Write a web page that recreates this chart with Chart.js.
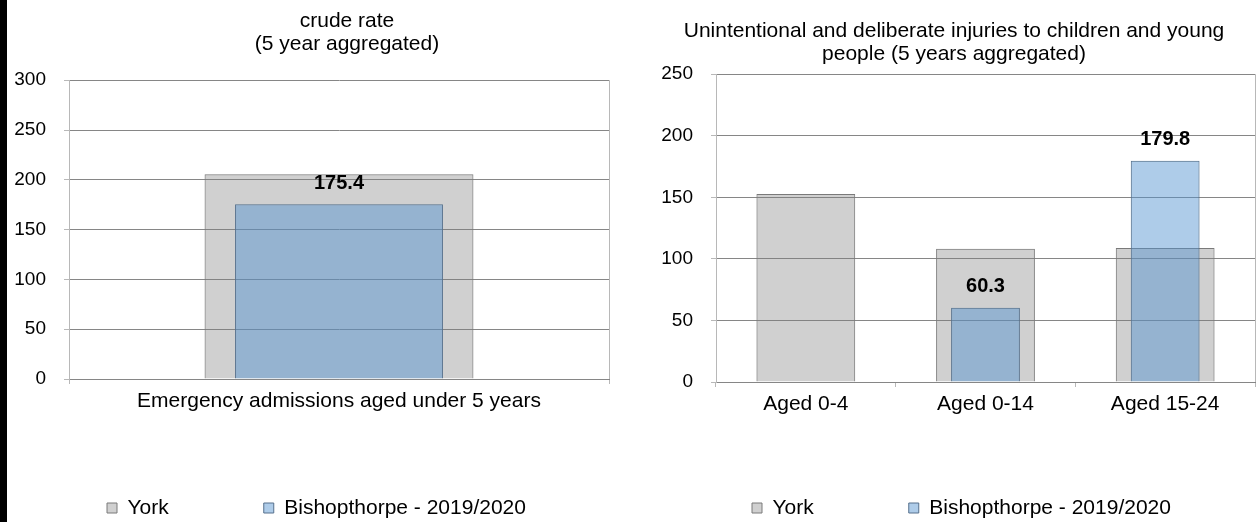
<!DOCTYPE html>
<html>
<head>
<meta charset="utf-8">
<script src="https://cdn.jsdelivr.net/npm/chart.js@4"></script>
<style>
    body { margin: 0; background: #fff; }
    #wrap { position: relative; width: 1258px; height: 522px; overflow: hidden; }
    #edge { position: absolute; left: 0; top: 0; width: 7px; height: 522px; background: #000; z-index: 2; }
    #left { position: absolute; left: 0; top: 0; width: 630px; height: 522px; }
    #right { position: absolute; left: 630px; top: 0; width: 628px; height: 522px; }
</style>
</head>
<body>
<div id="wrap">
    <div id="edge"></div>
    <div id="left"><canvas id="admissions-chart"></canvas></div>
    <div id="right"><canvas id="injuries-chart"></canvas></div>
</div>
<script>
// Series names shared by both charts
const seriesNames = ["York", "Bishopthorpe - 2019/2020"];

// Left chart: emergency admissions, crude rate
const admissionTitle = ["crude rate", "(5 year aggregated)"];
const admissionLabels = ["Emergency admissions aged under 5 years"];
const admissionYork = [205.6];
const admissionBishopthorpe = [175.4];
const admissionTicks = [0, 50, 100, 150, 200, 250, 300];

// Right chart: injuries to children and young people
const injuryTitle = ["Unintentional and deliberate injuries to children and young", "people (5 years aggregated)"];
const injuryLabels = ["Aged 0-4", "Aged 0-14", "Aged 15-24"];
const injuryYork = [152.6, 108.2, 108.8];
const injuryBishopthorpe = [null, 60.3, 179.8];
const injuryTicks = [0, 50, 100, 150, 200, 250];

const FONT = "'Liberation Sans', Arial, sans-serif";
const GRID = "#868686";
const FRAME = "#b8b8b8";
const LEGEND_GAP = 95;
const LEGEND_FONT = 21;

Chart.defaults.font.family = FONT;
Chart.defaults.color = "#000";

// Draws the bold value above each Bishopthorpe bar
const valueLabels = {
    id: "valueLabels",
    afterDatasetsDraw(chart) {
        const ctx = chart.ctx;
        const meta = chart.getDatasetMeta(1);
        const values = chart.data.datasets[1].data;
        ctx.save();
        ctx.font = `bold 20px ${FONT}`;
        ctx.fillStyle = "#000";
        ctx.textAlign = "center";
        ctx.textBaseline = "middle";
        meta.data.forEach((bar, i) => {
            if (values[i] == null) return;
            ctx.fillText(values[i].toFixed(1), bar.x, bar.y - 21);
        });
        ctx.restore();
    }
};

// Excel placed the title and legend off-centre, so nudge them after layout
const placeBlocks = {
    id: "placeBlocks",
    afterLayout(chart, args, opts) {
        const title = chart.titleBlock;
        const w = title.right - title.left;
        title.left = opts.titleCenter - w / 2;
        title.right = title.left + w;

        const legend = chart.legend;
        legend.left = opts.legendStart - LEGEND_GAP;
        legend.right = legend.left + 2000;
        legend.top = opts.legendY - LEGEND_FONT / 2 - LEGEND_GAP;
    }
};

const createChartConfig = (title, labels, york, bishop, ticks, yorkWidth, bishopWidth, layout) => {
    return {
        type: "bar",
        data: {
            labels: labels,
            datasets: [
                {
                    label: seriesNames[0],
                    data: york,
                    backgroundColor: "rgba(128,128,128,0.37)",
                    borderColor: "#7a7a7a",
                    borderWidth: 1,
                    grouped: false,
                    order: 2,
                    categoryPercentage: 1,
                    barPercentage: yorkWidth
                },
                {
                    label: seriesNames[1],
                    data: bishop,
                    backgroundColor: "rgba(83,147,208,0.47)",
                    borderColor: "#56718d",
                    borderWidth: 1,
                    grouped: false,
                    order: 1,
                    categoryPercentage: 1,
                    barPercentage: bishopWidth
                }
            ]
        },
        options: {
            responsive: true,
            maintainAspectRatio: false,
            animation: false,
            layout: { padding: { left: 0, right: layout.right, top: 0, bottom: 0 } },
            plugins: {
                title: {
                    display: true,
                    text: title,
                    font: { size: 21, weight: "normal", lineHeight: 1.1 },
                    padding: { top: layout.titleTop, bottom: layout.titleBottom }
                },
                legend: {
                    position: "bottom",
                    align: "start",
                    maxHeight: 30,
                    labels: {
                        boxWidth: 10,
                        boxHeight: 10,
                        padding: LEGEND_GAP,
                        font: { size: LEGEND_FONT },
                        sort: (a, b) => a.datasetIndex - b.datasetIndex
                    }
                },
                tooltip: { enabled: false },
                placeBlocks: { titleCenter: layout.titleCenter, legendStart: layout.legendStart, legendY: 508 }
            },
            scales: {
                x: {
                    afterFit: scale => { scale.height = layout.xHeight; },
                    grid: {
                        offset: true,
                        color: c => c.tick ? "rgba(0,0,0,0)" : FRAME,
                        tickColor: FRAME,
                        tickLength: 5
                    },
                    border: { color: GRID },
                    ticks: { font: { size: 21 }, padding: 5, maxRotation: 0 }
                },
                y: {
                    min: ticks[0],
                    max: ticks[ticks.length - 1],
                    afterFit: scale => { scale.width = layout.yWidth; },
                    afterBuildTicks: scale => { scale.ticks = ticks.map(v => ({ value: v })); },
                    grid: { color: GRID, tickColor: FRAME, tickLength: 5 },
                    border: { color: FRAME },
                    ticks: { font: { size: 19 }, padding: 18 }
                }
            }
        },
        plugins: [valueLabels, placeBlocks]
    };
};

const main = () => {
    const admissionConfig = createChartConfig(admissionTitle, admissionLabels, admissionYork,
        admissionBishopthorpe, admissionTicks, 0.498, 0.385,
        { right: 21, titleTop: 10, titleBottom: 24, xHeight: 113, yWidth: 69,
          titleCenter: 347, legendStart: 107 });
    new Chart(document.getElementById("admissions-chart"), admissionConfig);

    const injuryConfig = createChartConfig(injuryTitle, injuryLabels, injuryYork,
        injuryBishopthorpe, injuryTicks, 0.55, 0.383,
        { right: 3, titleTop: 20, titleBottom: 8, xHeight: 110, yWidth: 86,
          titleCenter: 324, legendStart: 122 });
    new Chart(document.getElementById("injuries-chart"), injuryConfig);
};

main();
</script>
</body>
</html>
